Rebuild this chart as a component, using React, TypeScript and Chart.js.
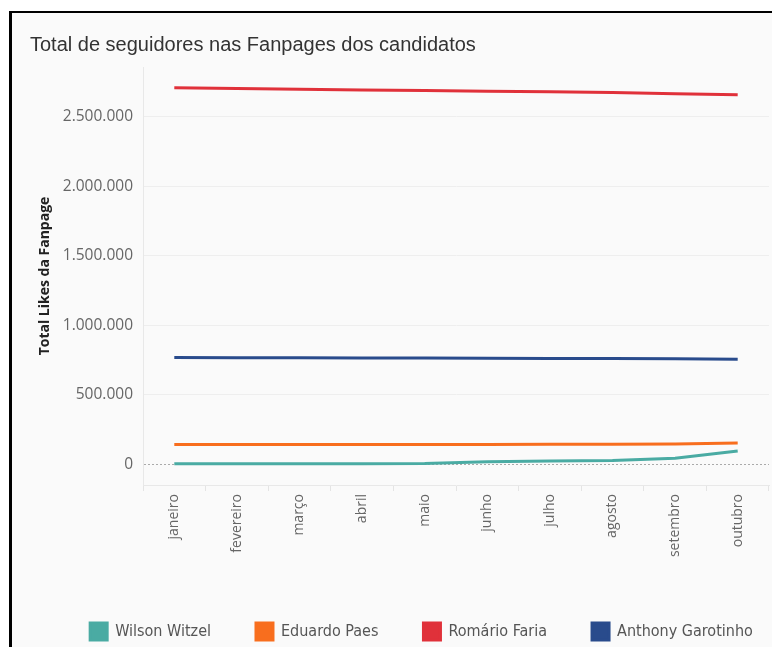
import React, { useEffect, useRef } from "react";
import { Chart, registerables } from "chart.js";

Chart.register(...registerables);

const months = ["janeiro", "fevereiro", "março", "abril", "maio", "junho", "julho", "agosto", "setembro", "outubro"];
const wilsonWitzel = [3000, 3000, 3000, 3000, 4000, 18000, 22000, 26000, 42000, 95000];
const eduardoPaes = [142000, 142000, 142000, 142000, 142000, 142000, 143000, 143000, 145000, 153000];
const romarioFaria = [2710000, 2705000, 2700000, 2695000, 2690000, 2686000, 2682000, 2676000, 2668000, 2660000];
const anthonyGarotinho = [768000, 767000, 766000, 765000, 764000, 763000, 761000, 761000, 760000, 755000];
const yTicks = [0, 500000, 1000000, 1500000, 2000000, 2500000];

const fmt = (v: number) => String(v).replace(/\B(?=(\d{3})+(?!\d))/g, ".");

export default function App() {
  const ref = useRef<HTMLCanvasElement | null>(null);
  useEffect(() => {
    if (!ref.current) return;
    const shiftBlocks = {
      id: "shiftBlocks",
      afterLayout(chart: any) {
        if (chart.titleBlock) {
          chart.titleBlock.left += 18;
          chart.titleBlock.right += 18;
        }
        if (chart.legend) {
          chart.legend.left += 31;
          chart.legend.right += 31;
        }
      },
    };
    const chart = new Chart(ref.current, {
      type: "line",
      data: {
        labels: months,
        datasets: [
          { label: "Wilson Witzel", data: wilsonWitzel, borderColor: "#4aaba3", backgroundColor: "#4aaba3" },
          { label: "Eduardo Paes", data: eduardoPaes, borderColor: "#f86e1e", backgroundColor: "#f86e1e" },
          { label: "Romário Faria", data: romarioFaria, borderColor: "#e0313a", backgroundColor: "#e0313a" },
          { label: "Anthony Garotinho", data: anthonyGarotinho, borderColor: "#294b8c", backgroundColor: "#294b8c" },
        ],
      },
      options: {
        animation: false,
        responsive: false,
        devicePixelRatio: 1,
        elements: {
          line: { borderWidth: 3, tension: 0 },
          point: { radius: 0, hoverRadius: 0 },
        },
        layout: { padding: { left: 0, right: 3, top: 0, bottom: -3 } },
        plugins: {
          title: {
            display: true,
            text: "Total de seguidores nas Fanpages dos candidatos",
            align: "start",
            color: "#333",
            font: { family: "'Liberation Sans', Arial, sans-serif", size: 20, weight: "normal" },
            padding: { top: 20, bottom: 10 },
          },
          legend: {
            position: "bottom",
            labels: {
              boxWidth: 17,
              boxHeight: 17,
              padding: 45,
              color: "#555",
              font: { family: "'Liberation Sans Narrow', 'DejaVu Sans Condensed', Roboto, sans-serif", size: 16 },
            },
          },
          tooltip: { enabled: false },
        },
        scales: {
          x: {
            type: "category",
            offset: true,
            grid: {
              offset: true,
              drawOnChartArea: false,
              drawTicks: true,
              tickLength: 6,
              color: "#e4e4e4",
            },
            border: { display: true, color: "#e8e8e8" },
            ticks: {
              minRotation: 90,
              maxRotation: 90,
              color: "#666",
              padding: 3,
              font: { family: "'Open Sans', sans-serif", size: 14 },
            },
            afterFit(scale: any) {
              scale.height = 93;
            },
          },
          y: {
            type: "linear",
            min: -150000,
            max: 2860000,
            afterBuildTicks(scale: any) {
              scale.ticks = yTicks.map((v) => ({ value: v }));
            },
            grid: {
              drawTicks: false,
              color: (ctx: any) => (ctx.tick && ctx.tick.value === 0 ? "#aaaaaa" : "#eeeeee"),
              lineWidth: 1,
            },
            border: {
              display: true,
              color: "#e8e8e8",
              dash: (ctx: any) => (ctx.tick && ctx.tick.value === 0 ? [2, 2] : []),
            },
            ticks: {
              color: "#666",
              padding: 10,
              font: { family: "'Open Sans', sans-serif", size: 15.5 },
              callback: (v: any) => fmt(Number(v)),
            },
            title: {
              display: true,
              text: "Total Likes da Fanpage",
              color: "#222",
              font: { family: "'Open Sans', sans-serif", size: 14, weight: "bold" },
              padding: { top: 25, bottom: 0 },
            },
            afterFit(scale: any) {
              scale.width = 131;
            },
          },
        },
      },
      plugins: [shiftBlocks],
    } as any);
    return () => chart.destroy();
  }, []);

  return (
    <div
      style={{
        position: "absolute",
        left: 9,
        top: 11,
        width: 763,
        height: 636,
        boxSizing: "border-box",
        borderTop: "2px solid #000",
        borderLeft: "3px solid #000",
        background: "#fafafa",
        overflow: "hidden",
      }}
    >
      <canvas ref={ref} width={760} height={634} style={{ display: "block", width: 760, height: 634 }} />
    </div>
  );
}
